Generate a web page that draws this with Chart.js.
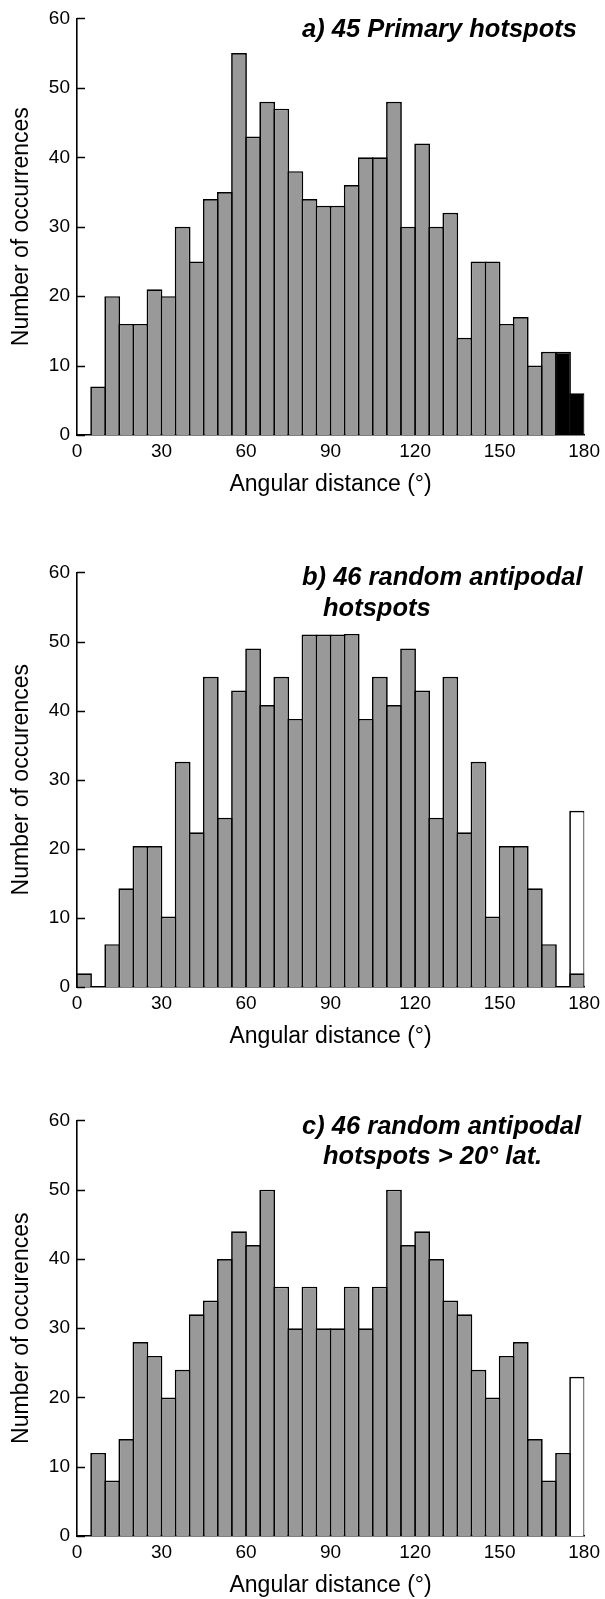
<!DOCTYPE html>
<html>
<head>
<meta charset="utf-8">
<script src="https://cdn.jsdelivr.net/npm/chart.js@4.4.1/dist/chart.umd.min.js"></script>
<style>
  html, body { margin: 0; padding: 0; background: #fff; overflow: hidden; }
  #page { position: relative; width: 605px; height: 1599px; }
  canvas { position: absolute; left: 0; }
  .ttl {
    position: absolute; z-index: 2; white-space: pre; color: #000;
    font-family: "Liberation Sans", Arial, Helvetica, sans-serif;
    font-weight: bold; font-style: italic; font-size: 25.5px; line-height: 25px;
  }
</style>
</head>
<body>
<div id="page">
  <canvas id="chartA" width="605" height="501" style="top:0px"></canvas>
  <canvas id="chartB" width="605" height="499" style="top:554px"></canvas>
  <canvas id="chartC" width="605" height="497" style="top:1102px"></canvas>
  <div class="ttl" style="left:302px; top:16px">a) 45 Primary hotspots</div>
  <div class="ttl" style="left:302px; top:564px">b) 46 random antipodal</div>
  <div class="ttl" style="left:323px; top:595px">hotspots</div>
  <div class="ttl" style="left:302px; top:1113px">c) 46 random antipodal</div>
  <div class="ttl" style="left:323px; top:1143px">hotspots &gt; 20° lat.</div>
</div>
<script>
// 5 degree bins (start of each bin)
const binStarts = [0, 5, 10, 15, 20, 25, 30, 35, 40, 45, 50, 55, 60, 65, 70, 75, 80, 85,
                   90, 95, 100, 105, 110, 115, 120, 125, 130, 135, 140, 145, 150, 155, 160, 165, 170, 175];

// a) 45 primary hotspots
const primaryCounts = [null, 7, 20, 16, 16, 21, 20, 30, 25, 34, 35, 55, 43, 48, 47, 38, 34, 33,
                       33, 36, 40, 40, 48, 30, 42, 30, 32, 14, 25, 25, 16, 17, 10, 12, 12, 6];

// b) 46 random antipodal hotspots
const antipodalCounts = [2, null, 6.2, 14.3, 20.4, 20.4, 10.2, 32.6, 22.4, 44.9, 24.5, 42.9, 49, 40.8, 44.9, 38.8, 51, 51,
                         51, 51.1, 38.8, 44.9, 40.8, 49, 42.9, 24.5, 44.9, 22.4, 32.6, 10.2, 20.4, 20.4, 14.3, 6.2, null, 2];

// c) 46 random antipodal hotspots > 20 deg lat.
const highLatCounts = [null, 12, 8, 14, 28, 26, 20, 24, 32, 34, 40, 44, 42, 50, 36, 30, 36, 30,
                       30, 36, 30, 36, 50, 42, 44, 40, 34, 32, 24, 20, 26, 28, 14, 8, 12, null];

// open (white) bars in the last bin
const openBinStarts = [175];
const openCountsB = [25.5];
const openCountsC = [23];

const FONT = '"Liberation Sans", Arial, Helvetica, sans-serif';
const GRAY = '#999999';
const BW = 1.7;

// short y ticks pointing into the plot
const inwardTicks = {
  id: 'inwardTicks',
  afterDatasetsDraw(chart) {
    const y = chart.scales.y;
    const ctx = chart.ctx;
    const left = chart.chartArea.left;
    ctx.save();
    ctx.strokeStyle = '#000';
    ctx.lineWidth = 1.5;
    y.ticks.forEach(t => {
      const py = Math.round(y.getPixelForValue(t.value)) + 0.5;
      ctx.beginPath();
      ctx.moveTo(left, py);
      ctx.lineTo(left + 8, py);
      ctx.stroke();
    });
    ctx.restore();
  }
};

function histogram(id, counts, openCounts, blackFrom, yTitle, xHeight, xTitlePad) {
  const datasets = [{
    data: binStarts.map((s, i) => ({ x: s + 2.5, y: counts[i] })),
    backgroundColor: c => (c.raw && c.raw.x > blackFrom) ? '#000' : GRAY,
    borderColor: '#000',
    borderWidth: BW,
    barPercentage: 1.12,
    categoryPercentage: 1,
    grouped: false,
    order: 1
  }];
  if (openCounts) {
    datasets.push({
      data: openBinStarts.map((s, i) => ({ x: s + 2.5, y: openCounts[i] })),
      backgroundColor: '#fff',
      borderColor: '#000',
      borderWidth: BW,
      barPercentage: 1.12,
      categoryPercentage: 1,
      grouped: false,
      order: 2
    });
  }
  return new Chart(document.getElementById(id), {
    type: 'bar',
    data: { datasets: datasets },
    options: {
      responsive: false,
      animation: false,
      layout: { padding: { top: 16, right: 15.5, left: 0, bottom: 0 } },
      plugins: { legend: { display: false }, tooltip: { enabled: false } },
      scales: {
        x: {
          type: 'linear', min: 0, max: 180, offset: false,
          grid: { display: false, drawTicks: false, offset: false },
          border: { display: true, color: '#000', width: 1.6 },
          ticks: { stepSize: 30, color: '#000', font: { family: FONT, size: 19 }, padding: 5, maxRotation: 0 },
          title: { display: true, text: 'Angular distance (°)', color: '#000',
                   font: { family: FONT, size: 23 }, padding: { top: 0, bottom: xTitlePad } },
          afterFit: s => { s.height = xHeight; }
        },
        y: {
          min: 0, max: 60,
          grid: { display: false, drawTicks: false },
          border: { display: true, color: '#000', width: 1.6 },
          ticks: { stepSize: 10, color: '#000', font: { family: FONT, size: 19 }, padding: 7 },
          title: { display: true, text: yTitle, color: '#000',
                   font: { family: FONT, size: 23 }, padding: { top: 8, bottom: 0 } },
          afterFit: s => { s.width = 77; }
        }
      }
    },
    plugins: [inwardTicks]
  });
}

histogram('chartA', primaryCounts, null, 170, 'Number of occurrences', 66, 3);
histogram('chartB', antipodalCounts, openCountsB, 999, 'Number of occurences', 66, 3);
histogram('chartC', highLatCounts, openCountsC, 999, 'Number of occurences', 63, 0);
</script>
</body>
</html>
